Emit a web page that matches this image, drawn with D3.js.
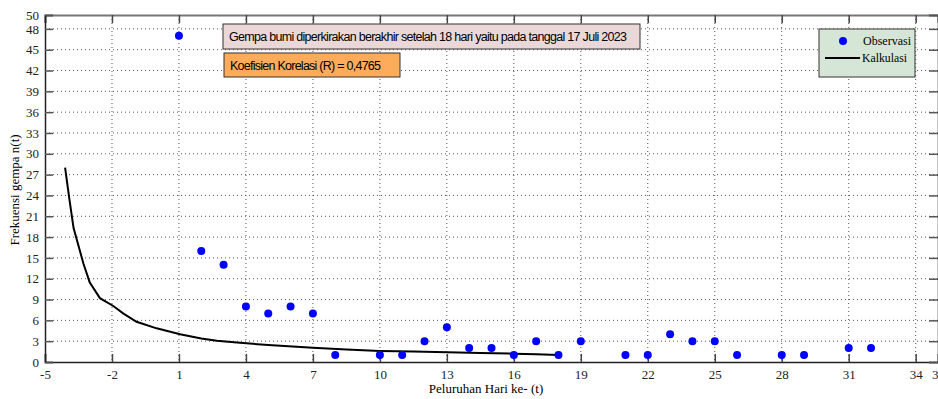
<!DOCTYPE html>
<html>
<head>
<meta charset="utf-8">
<script src="https://cdn.jsdelivr.net/npm/d3@7"></script>
<style>
  body { margin: 0; background: #fff; }
  svg { display: block; }
</style>
</head>
<body>
<svg id="chart"></svg>
<script>
// observed daily counts
const obsDay = [1, 2, 3, 4, 5, 6, 7, 8, 10, 11, 12, 13, 14, 15, 16, 17, 18, 19, 21, 22, 23, 24, 25, 26, 28, 29, 31, 32]
const obsCount = [47, 16, 14, 8, 7, 8, 7, 1, 1, 1, 3, 5, 2, 2, 1, 3, 1, 3, 1, 1, 4, 3, 3, 1, 1, 1, 2, 2]

// calculated curve
const calcDay = [-4.1, -3.9, -3.72, -3.28, -3.0, -2.54, -1.94, -1.5, -0.9, 0.0, 1.05, 2.0, 2.7, 3.6, 5.0, 7.0, 8.5, 10.0, 11.5, 13.0, 14.5, 16.0, 17.0, 18.0]
const calcCount = [28, 23.3, 19.3, 14.2, 11.5, 9.2, 8.07, 7.0, 5.8, 4.85, 4.0, 3.4, 3.07, 2.8, 2.45, 2.05, 1.8, 1.6, 1.5, 1.4, 1.3, 1.2, 1.1, 1.0]

const xTicks = [-5, -2, 1, 4, 7, 10, 13, 16, 19, 22, 25, 28, 31, 34, 35]
const yTicks = [0, 3, 6, 9, 12, 15, 18, 21, 24, 27, 30, 33, 36, 39, 42, 45, 48, 50]

const title = "Gempa bumi diperkirakan berakhir setelah 18 hari yaitu pada tanggal 17 Juli 2023"
const corr = "Koefisien Korelasi (R) = 0,4765"

const width = 938, height = 399
const m = { left: 45, top: 15, right: 0, bottom: 37 }

const svg = d3.select("#chart")
  .attr("width", width)
  .attr("height", height)

const x = d3.scaleLinear().domain([-5, 35]).range([m.left, width - m.right])
const y = d3.scaleLinear().domain([0, 50]).range([height - m.bottom, m.top])
const fmt = d => String(d)

// grid
svg.append("g")
  .selectAll("line")
  .data(xTicks.filter(d => d > -5 && d < 35))
  .enter().append("line")
  .attr("x1", d => x(d)).attr("x2", d => x(d))
  .attr("y1", y(50)).attr("y2", y(0))
  .attr("stroke", "#555").attr("stroke-width", 1)
  .attr("stroke-dasharray", "1,3")

svg.append("g")
  .selectAll("line")
  .data(yTicks.filter(d => d > 0 && d < 50))
  .enter().append("line")
  .attr("x1", x(-5)).attr("x2", x(35))
  .attr("y1", d => y(d)).attr("y2", d => y(d))
  .attr("stroke", "#555").attr("stroke-width", 1)
  .attr("stroke-dasharray", "1,3")

// axes
const font = "'Liberation Serif', 'DejaVu Serif', serif"

svg.append("g")
  .attr("transform", `translate(0,${y(0)})`)
  .call(d3.axisBottom(x).tickValues(xTicks).tickSize(-8).tickPadding(8).tickFormat(fmt))
  .call(g => g.select(".domain").attr("stroke", "#222").attr("stroke-width", 1.5))
  .call(g => g.selectAll(".tick line").attr("stroke", "#444").attr("stroke-width", 1.5))
  .call(g => g.selectAll("text").attr("font-family", font).attr("font-size", 13).attr("fill", "#222"))

svg.append("g")
  .attr("transform", `translate(0,${y(50)})`)
  .call(d3.axisTop(x).tickValues(xTicks).tickSize(-8).tickFormat(""))
  .call(g => g.select(".domain").attr("stroke", "#777").attr("stroke-width", 2))
  .call(g => g.selectAll(".tick line").attr("stroke", "#444").attr("stroke-width", 1.5))

svg.append("g")
  .attr("transform", `translate(${x(-5)},0)`)
  .call(d3.axisLeft(y).tickValues(yTicks).tickSize(-8).tickPadding(6).tickFormat(fmt))
  .call(g => g.select(".domain").attr("stroke", "#222").attr("stroke-width", 1.5))
  .call(g => g.selectAll(".tick line").attr("stroke", "#555").attr("stroke-width", 1.5))
  .call(g => g.selectAll("text").attr("font-family", font).attr("font-size", 13).attr("fill", "#222"))

svg.append("g")
  .attr("transform", `translate(${x(35)},0)`)
  .call(d3.axisRight(y).tickValues(yTicks).tickSize(-9).tickFormat(""))
  .call(g => g.select(".domain").attr("stroke", "#222").attr("stroke-width", 1.5))
  .call(g => g.selectAll(".tick line").attr("stroke", "#555").attr("stroke-width", 1.5))

// calculated curve
const pts = calcDay.map((d, i) => [d, calcCount[i]])
svg.append("path")
  .datum(pts)
  .attr("d", d3.line().x(d => x(d[0])).y(d => y(d[1])))
  .attr("fill", "none")
  .attr("stroke", "#000")
  .attr("stroke-width", 2)

// observations
svg.append("g")
  .selectAll("circle")
  .data(obsDay)
  .enter().append("circle")
  .attr("cx", d => x(d))
  .attr("cy", (d, i) => y(obsCount[i]))
  .attr("r", 4)
  .attr("fill", "#0000ff")

// axis labels
svg.append("text")
  .attr("x", 486).attr("y", 393)
  .attr("text-anchor", "middle")
  .attr("font-family", font).attr("font-size", 13)
  .text("Peluruhan Hari ke- (t)")

svg.append("text")
  .attr("transform", "translate(19,190) rotate(-90)")
  .attr("text-anchor", "middle")
  .attr("font-family", font).attr("font-size", 13)
  .text("Frekuensi gempa n(t)")

// annotation boxes
const sans = "'Liberation Sans', Arial, sans-serif"
svg.append("rect")
  .attr("x", 223).attr("y", 24).attr("width", 417).attr("height", 25)
  .attr("fill", "#ead8d8").attr("stroke", "#333").attr("stroke-width", 1)
svg.append("text")
  .attr("x", 229).attr("y", 41)
  .attr("font-family", sans).attr("font-size", 12.5)
  .attr("textLength", 398)
  .text(title)

svg.append("rect")
  .attr("x", 224).attr("y", 53).attr("width", 176).attr("height", 24)
  .attr("fill", "#ffab5c").attr("stroke", "#333").attr("stroke-width", 1)
svg.append("text")
  .attr("x", 230).attr("y", 70)
  .attr("font-family", sans).attr("font-size", 12.5)
  .attr("textLength", 151)
  .text(corr)

// legend
const lg = svg.append("g")
lg.append("rect")
  .attr("x", 819).attr("y", 29).attr("width", 96).attr("height", 48)
  .attr("fill", "#d6e6d6").attr("stroke", "#333").attr("stroke-width", 1)
lg.append("circle").attr("cx", 843).attr("cy", 41).attr("r", 4).attr("fill", "#0000ff")
lg.append("line").attr("x1", 825).attr("x2", 860).attr("y1", 58).attr("y2", 58)
  .attr("stroke", "#000").attr("stroke-width", 2)
lg.append("text").attr("x", 863).attr("y", 45)
  .attr("font-family", font).attr("font-size", 13)
  .attr("textLength", 48).attr("lengthAdjust", "spacingAndGlyphs")
  .text("Observasi")
lg.append("text").attr("x", 862).attr("y", 62)
  .attr("font-family", font).attr("font-size", 13)
  .attr("textLength", 45).attr("lengthAdjust", "spacingAndGlyphs")
  .text("Kalkulasi")
</script>
</body>
</html>
